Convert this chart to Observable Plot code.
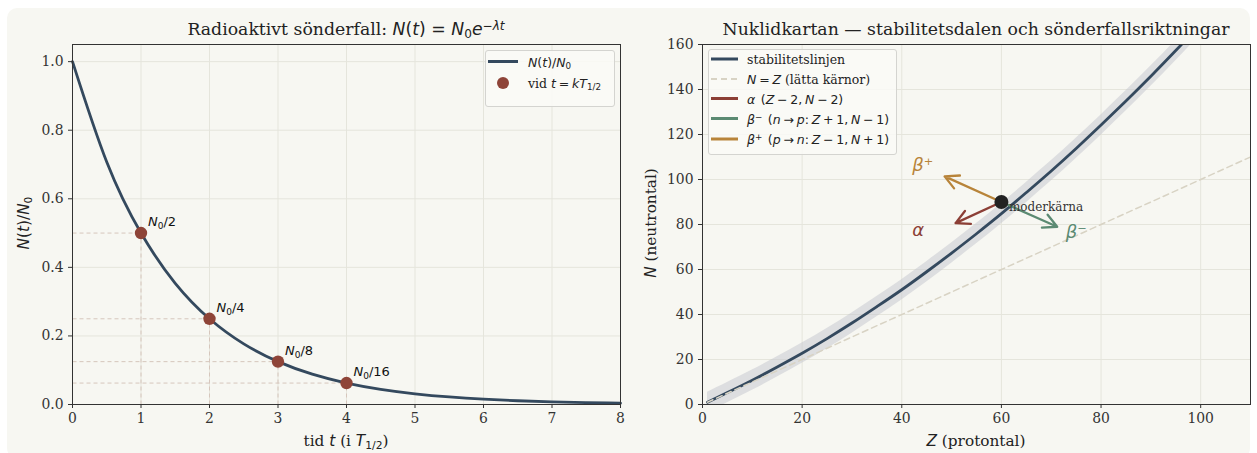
<!DOCTYPE html>
<html><head><meta charset="utf-8">
<script src="https://cdn.jsdelivr.net/npm/d3@7"></script>
<script src="https://cdn.jsdelivr.net/npm/@observablehq/plot@0.6"></script>
<style>
body{margin:0;background:#fff;width:1257px;height:453px;overflow:hidden;position:relative;font-family:"DejaVu Serif",serif;color:#222}
#bg{position:absolute;left:7px;top:8px;width:1243px;height:450px;background:#f7f7f2;border-radius:10px}
.abs{position:absolute;white-space:nowrap}
.m{font-family:"DejaVu Sans",sans-serif}
.m i{font-style:italic}
.title{font-size:17.3px;transform:translate(-50%,-50%);color:#222}
.xl{font-size:15.3px;transform:translate(-50%,-50%);color:#222}
.yl{font-size:15.3px;transform:translate(-50%,-50%) rotate(-90deg);color:#222}
.leg{position:absolute;border:1px solid #d4d4d0;border-radius:3px;background:rgba(250,250,247,0.85)}
.row{position:absolute;font-size:12.5px;white-space:nowrap;transform:translateY(-50%);color:#222}
.row .m{word-spacing:-1.2px}
sub{font-size:70%;vertical-align:-0.25em;line-height:0}
sup{font-size:70%;vertical-align:0.45em;line-height:0}
#p1,#p2{position:absolute;top:0}
#p1{left:0}#p2{left:640px}
svg{overflow:visible}
</style></head>
<body>
<div id="bg"></div>
<div id="p1"></div>
<div id="p2"></div>

<div class="abs title" style="left:346px;top:29px">Radioaktivt sönderfall: <span class="m"><i>N</i>(<i>t</i>) = <i>N</i><sub>0</sub><i>e</i><sup>−<i>λt</i></sup></span></div>
<div class="abs title" style="left:976px;top:29px">Nuklidkartan — stabilitetsdalen och sönderfallsriktningar</div>
<div class="abs xl" style="left:346px;top:441px">tid <span class="m"><i>t</i></span> (i <span class="m"><i>T</i><sub>1/2</sub></span>)</div>
<div class="abs xl" style="left:976px;top:441px"><span class="m"><i>Z</i></span> (protontal)</div>
<div class="abs yl" style="left:24px;top:223px"><span class="m"><i>N</i>(<i>t</i>)/<i>N</i><sub>0</sub></span></div>
<div class="abs yl" style="left:651px;top:223px"><span class="m"><i>N</i></span> (neutrontal)</div>

<div class="leg" style="left:485px;top:50px;width:128px;height:55px"></div>
<svg class="abs" style="left:488px;top:58px" width="30" height="30"><line x1="0" y1="3.5" x2="30" y2="3.5" stroke="#34495e" stroke-width="3"/><circle cx="15" cy="25" r="6" fill="#8e4438"/></svg>
<div class="row" style="left:528px;top:62px"><span class="m"><i>N</i>(<i>t</i>)/<i>N</i><sub>0</sub></span></div>
<div class="row" style="left:528px;top:83px">vid <span class="m"><i>t</i> = <i>k</i><i>T</i><sub>1/2</sub></span></div>

<div class="leg" style="left:708px;top:49px;width:187px;height:104px"></div>
<svg class="abs" style="left:711px;top:55px" width="28" height="90">
<line x1="0" y1="4" x2="27" y2="4" stroke="#34495e" stroke-width="3"/>
<line x1="0" y1="24" x2="27" y2="24" stroke="#d8d3c4" stroke-width="2" stroke-dasharray="6,4"/>
<line x1="0" y1="43.5" x2="27" y2="43.5" stroke="#8c3f36" stroke-width="3"/>
<line x1="0" y1="63.5" x2="27" y2="63.5" stroke="#5b8a72" stroke-width="3"/>
<line x1="0" y1="84" x2="27" y2="84" stroke="#b8843a" stroke-width="3"/>
</svg>
<div class="row" style="left:747px;top:59px">stabilitetslinjen</div>
<div class="row" style="left:747px;top:79px"><span class="m"><i>N</i> = <i>Z</i></span> (lätta kärnor)</div>
<div class="row" style="left:747px;top:98.5px"><span class="m"><i>α</i>&nbsp; (<i>Z</i> − 2, <i>N</i> − 2)</span></div>
<div class="row" style="left:747px;top:118.5px"><span class="m"><i>β</i><sup>−</sup>&nbsp; (<i>n</i> → <i>p</i>: <i>Z</i> + 1, <i>N</i> − 1)</span></div>
<div class="row" style="left:747px;top:139px"><span class="m"><i>β</i><sup>+</sup>&nbsp; (<i>p</i> → <i>n</i>: <i>Z</i> − 1, <i>N</i> + 1)</span></div>

<script>
// ---- Left panel data ----
const decayT = [0,0.5,1,1.5,2,2.5,3,3.5,4,4.5,5,5.5,6,6.5,7,7.5,8];
const decayN = [1,0.7071,0.5,0.3536,0.25,0.1768,0.125,0.0884,0.0625,0.0442,0.03125,0.0221,0.0156,0.011,0.0078,0.0055,0.0039];
const halfK = [1,2,3,4];
const halfN = [0.5,0.25,0.125,0.0625];
const halfLabels = ["N₀/2","N₀/4","N₀/8","N₀/16"];
const tTicks = [0,1,2,3,4,5,6,7,8];
const nTicksL = [0,0.2,0.4,0.6,0.8,1.0];

// ---- Right panel data ----
const stabZ = [1,5,10,15,20,25,30,35,40,45,50,55,60,65,70,75,80,85,90,95,100,105,110];
const stabN = [1.0,5.3,10.8,16.7,22.8,29.3,36.2,43.5,51.0,59.0,67.3,75.9,84.8,94.2,103.8,113.8,124.2,134.9,145.9,157.3,169.0,181.0,193.5];
const bandHalf = 4.5;
const nzZ = [1,110];
const nzN = [1,110];
const mother = {Z:60, N:90, label:"moderkärna"};
const modes = ["α","β⁻","β⁺"];
const modeEndZ = [50.8,71.2,48.6];
const modeEndN = [80.6,79.0,101.4];
const modeLabelZ = [42.1,72.9,42.1];
const modeLabelN = [77.6,76.6,106.2];
const modeColors = ["#8c3f36","#5b8a72","#b8843a"];
const zTicks = [0,20,40,60,80,100];
const nTicksR = [0,20,40,60,80,100,120,140,160];

const gridColor = "#e5e5dc";
const baseStyle = {background:"transparent", fontFamily:"DejaVu Serif", fontSize:"13.9px", color:"#333", overflow:"visible"};

const decay = decayT.map((t,i)=>({t, n:decayN[i]}));
const halves = halfK.map((k,i)=>({k, n:halfN[i], label:halfLabels[i]}));

const left = Plot.plot({
  width:640, height:453,
  marginLeft:72, marginRight:20, marginTop:44, marginBottom:49,
  x:{domain:[0,8]},
  y:{domain:[0,1.05]},
  style: baseStyle,
  marks:[
    Plot.gridX(tTicks, {stroke:gridColor, strokeOpacity:1}),
    Plot.gridY(nTicksL, {stroke:gridColor, strokeOpacity:1}),
    Plot.link(halves, {x1:0, y1:"n", x2:"k", y2:"n", stroke:"#d6c6bc", strokeDasharray:"4,3", strokeWidth:1}),
    Plot.link(halves, {x1:"k", y1:0, x2:"k", y2:"n", stroke:"#d6c6bc", strokeDasharray:"4,3", strokeWidth:1}),
    Plot.line(decay, {x:"t", y:"n", stroke:"#34495e", strokeWidth:2.8, curve:"natural"}),
    Plot.dot(halves, {x:"k", y:"n", r:6.2, fill:"#8e4438"}),
    Plot.text(halves, {x:"k", y:"n", text:"label", dx:7, dy:-11, textAnchor:"start", fontFamily:"DejaVu Sans", fontSize:13, fill:"#111", className:"nlab"}),
    Plot.frame({stroke:"#333", strokeWidth:1}),
    Plot.axisX({ticks:tTicks, tickFormat:d=>String(d), tickSize:4, tickPadding:5, label:null}),
    Plot.axisY({ticks:nTicksL, tickFormat:d=>d.toFixed(1), tickSize:4, tickPadding:5, label:null})
  ]
});
document.getElementById("p1").appendChild(left);

// rich N₀ labels
left.querySelectorAll(".nlab text").forEach(el=>{
  const s = el.textContent; const rest = s.slice(2);
  el.innerHTML = `<tspan font-style="italic">N</tspan><tspan font-size="9" dy="3">0</tspan><tspan dy="-3">${rest}</tspan>`;
});

const stab = stabZ.map((Z,i)=>({Z, N:stabN[i]}));
const nz = nzZ.map((Z,i)=>({Z, N:nzN[i]}));
const arrows = modes.map((m,i)=>({m, Z1:mother.Z, N1:mother.N, Z2:modeEndZ[i], N2:modeEndN[i], lz:modeLabelZ[i], ln:modeLabelN[i], c:modeColors[i]}));

const right = Plot.plot({
  width:617, height:453,
  marginLeft:62, marginRight:7, marginTop:44, marginBottom:49,
  x:{domain:[0,110]},
  y:{domain:[0,160]},
  style: baseStyle,
  marks:[
    Plot.gridX(zTicks, {stroke:gridColor, strokeOpacity:1}),
    Plot.gridY(nTicksR, {stroke:gridColor, strokeOpacity:1}),
    Plot.areaY(stab, {x:"Z", y1:d=>d.N-bandHalf, y2:d=>d.N+bandHalf, fill:"#c4c6ce", fillOpacity:0.5, curve:"natural", clip:true}),
    Plot.line(stab, {x:"Z", y:"N", stroke:"#34495e", strokeWidth:2.8, curve:"natural", clip:true}),
    Plot.line(nz, {x:"Z", y:"N", stroke:"#d8d3c4", strokeWidth:1.5, strokeDasharray:"6,4", clip:true}),
    Plot.arrow(arrows, {x1:"Z1", y1:"N1", x2:"Z2", y2:"N2", stroke:"c", strokeWidth:2.3, headLength:10, headAngle:55, bend:0}),
    Plot.dot([mother], {x:"Z", y:"N", r:7, fill:"#222"}),
    Plot.text([mother], {x:"Z", y:"N", text:"label", dx:7.5, dy:5, textAnchor:"start", fontFamily:"DejaVu Serif", fontSize:12, fill:"#333"}),
    Plot.text(arrows, {x:"lz", y:"ln", text:"m", fill:"c", textAnchor:"start", lineAnchor:"middle", fontFamily:"DejaVu Sans", fontStyle:"italic", fontSize:18}),
    Plot.frame({stroke:"#333", strokeWidth:1}),
    Plot.axisX({ticks:zTicks, tickSize:4, tickPadding:5, label:null}),
    Plot.axisY({ticks:nTicksR, tickSize:4, tickPadding:5, label:null})
  ]
});
document.getElementById("p2").appendChild(right);
</script>
</body></html>
